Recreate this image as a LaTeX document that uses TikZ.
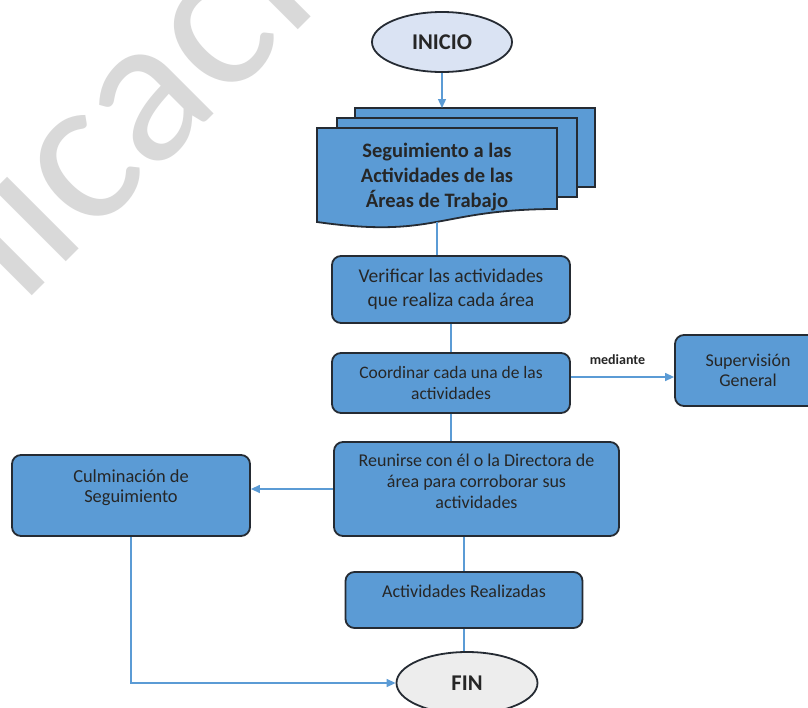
\documentclass[tikz,border=0pt]{standalone}
\usepackage{fontspec}
\setmainfont{Carlito}
\usetikzlibrary{shapes.geometric, arrows.meta}
\definecolor{cajaazul}{HTML}{5B9BD5}
\definecolor{borde}{HTML}{252B33}
\definecolor{linea}{HTML}{5B9BD5}
\definecolor{inicioc}{HTML}{DAE3F3}
\definecolor{finc}{HTML}{EDEDED}
\definecolor{marca}{HTML}{D9D9D9}

\begin{document}
\begin{tikzpicture}[x=1pt, y=-1pt,
  caja/.style={draw=borde, fill=cajaazul, line width=1.8pt, rounded corners=9pt, inner sep=0pt, align=center, text=black!85, font=\fontsize{18}{21}\selectfont},
  hoja/.style={draw=borde, fill=cajaazul, line width=1.8pt},
  term/.style={ellipse, draw=borde, line width=1.8pt, inner sep=0pt, minimum width=140pt, minimum height=60pt, text=black!85, font=\bfseries\fontsize{22.5}{26}\selectfont},
  conn/.style={draw=linea, line width=1.3pt},
  flecha/.style={conn, -{Triangle[length=9pt,width=8pt]}}]
\clip (0,0) rectangle (808,707);
\fill[white] (0,0) rectangle (808,707);
\node[text=marca, rotate=45, anchor=base west, inner sep=0pt, font=\fontsize{212}{212}\selectfont] (marca) at (-214,542) {Publicación};

\node[term, fill=inicioc] (ini) at (442,42) {INICIO};
\draw[hoja] (355,108) rectangle (595,187);
\draw[hoja] (337,118) rectangle (577,197);
\draw[hoja] (317,128) -- (557,128) -- (557,209) .. controls (437,209) and (437,239) .. (317,222) -- cycle;
\node[align=center, text=black!85, font=\bfseries\fontsize{20.5}{25}\selectfont] (seg) at (437,177) {Seguimiento a las\\Actividades de las\\Áreas de Trabajo};
\coordinate (segarr) at (443,108);
\coordinate (segab) at (437,222);

\node[caja, minimum width=238pt, minimum height=67pt, font=\fontsize{19.5}{24}\selectfont] (verif) at (451,289.5) {Verificar las actividades\\que realiza cada área};
\node[caja, minimum width=238pt, minimum height=60pt, font=\fontsize{17.5}{21}\selectfont] (coord) at (451,383) {Coordinar cada una de las\\actividades};
\node[caja, minimum width=146pt, minimum height=71pt, font=\fontsize{18}{20}\selectfont] (sup) at (748,370.5) {Supervisión\\General};
\node[caja, minimum width=285pt, minimum height=94pt, text depth=16pt] (reun) at (476.5,489) {Reunirse con él o la Directora de\\área para corroborar sus\\actividades};
\node[caja, minimum width=238pt, minimum height=81pt, text depth=19pt, font=\fontsize{18.4}{20}\selectfont] (culm) at (131,495.5) {Culminación de\\Seguimiento};
\node[caja, minimum width=237pt, minimum height=56pt, text depth=18pt] (act) at (464,600) {Actividades Realizadas};
\node[term, fill=finc, minimum width=141pt, minimum height=62pt] (fin) at (467,683) {FIN};

\draw[flecha] (ini.south) -- (ini.south |- segarr);
\draw[conn] (segab) -- (segab |- verif.north);
\draw[conn] (verif.south) -- (coord.north);
\coordinate (med) at ([yshift=6pt]coord.east);
\draw[flecha] (med) -- (med -| sup.west) node[midway, above=8pt, xshift=-5pt, text=black!85, font=\bfseries\fontsize{14}{16}\selectfont] {mediante};
\draw[conn] (coord.south) -- (coord.south |- reun.north);
\draw[flecha] (reun.west) -- (reun.west -| culm.east);
\draw[conn] (act.north |- reun.south) -- (act.north);
\draw[conn] (act.south) -- (act.south |- fin.north);
\draw[flecha] (culm.south) |- (fin.west);
\end{tikzpicture}
\end{document}
